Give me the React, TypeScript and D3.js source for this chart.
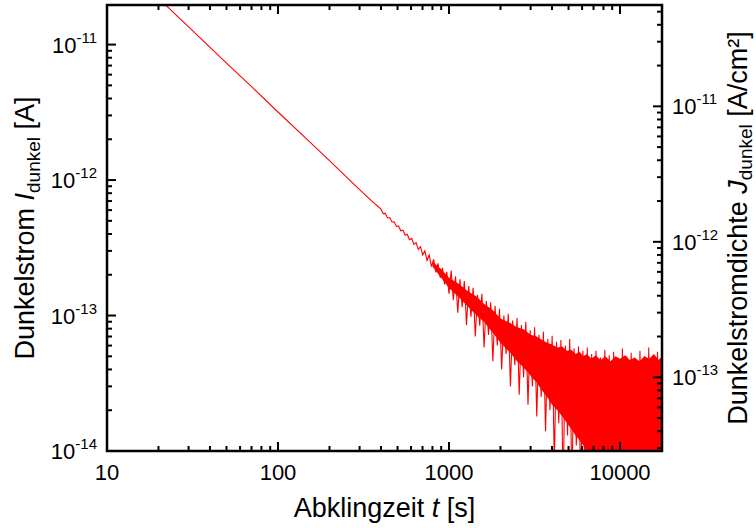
import React from 'react';
import * as d3 from 'd3';

// Decay measurement: time [s] and dark current [A]
const TIME_S = [
  20, 30, 50, 70, 100, 150, 200, 250, 300, 350,
  400, 412, 424, 437, 450, 464, 478, 492, 507, 522, 538, 554, 570, 587, 605,
  623, 642, 661, 681, 701, 722, 744, 766, 789, 813, 837, 862, 888, 915, 942, 970, 1000,
  1030, 1060, 1092, 1125, 1159, 1194, 1229, 1266, 1304, 1343, 1384, 1425, 1468, 1512,
  1557, 1604, 1652, 1702, 1753, 1805, 1859, 1915, 1973, 2032,
  2093, 2156, 2220, 2287, 2355, 2426, 2499, 2574, 2651, 2730, 2812, 2897, 2984, 3073,
  3165, 3260, 3358, 3459, 3563, 3670, 3780, 3893, 4010,
  4130, 4254, 4382, 4513, 4649, 4788, 4932, 5080, 5232, 5389, 5551, 5717, 5889, 6065,
  6247, 6435, 6628, 6827, 7031, 7242, 7460, 7683, 7914, 8151, 8396, 8648, 8907, 9175,
  9450, 9733, 10025, 10326, 10636, 10955, 11284, 11622, 11971, 12330, 12700, 13081,
  13473, 13877, 14294, 14722, 15164, 15619, 16088, 16570, 17067, 17579,
];
const CURRENT_A = [
  2.2e-11, 1.35e-11, 7.3e-12, 4.89e-12, 3.18e-12, 1.96e-12, 1.39e-12, 1.06e-12, 8.5e-13, 7.08e-13,
  6.1e-13, 5.65e-13, 5.68e-13, 5.25e-13, 5.29e-13, 4.9e-13, 4.92e-13, 4.55e-13, 4.58e-13, 4.22e-13,
  4.27e-13, 3.92e-13, 3.98e-13, 3.63e-13, 3.71e-13,
  3.35e-13, 3.45e-13, 3.08e-13, 3.22e-13, 2.8e-13, 3.0e-13, 2.55e-13, 2.8e-13, 2.3e-13, 2.6e-13,
  2.08e-13, 2.43e-13, 1.9e-13, 2.25e-13, 1.7e-13, 2.1e-13, 1.45e-13,
  2.15e-13, 1.3e-13, 1.95e-13, 1.05e-13, 1.85e-13, 1.15e-13, 1.8e-13, 8.5e-14, 1.65e-13, 9.8e-14,
  1.6e-13, 7.0e-14, 1.42e-13, 8.4e-14,
  1.45e-13, 5.8e-14, 1.28e-13, 7.2e-14, 1.25e-13, 4.6e-14, 1.18e-13, 6.0e-14, 1.12e-13, 4.0e-14,
  1.0e-13, 5.2e-14, 1.03e-13, 3.0e-14, 9.2e-14, 4.3e-14, 9.6e-14, 2.6e-14, 8.5e-14, 3.5e-14,
  9.0e-14, 2.2e-14, 7.8e-14, 3.0e-14,
  8.2e-14, 1.8e-14, 7.2e-14, 2.5e-14, 7.6e-14, 1.4e-14, 6.7e-14, 2.0e-14, 7.1e-14,
  8e-15, 6.4e-14, 1.6e-14, 6.6e-14, 5e-15, 6.0e-14, 1.3e-14, 6.7e-14, 5e-15, 5.7e-14, 1.1e-14,
  5.9e-14, 5e-15, 5.5e-14,
  5e-15, 5.8e-14, 5e-15, 5.2e-14, 5e-15, 5.5e-14, 5e-15, 4.9e-14, 5e-15, 5.6e-14, 5e-15,
  5.1e-14, 5e-15, 5.4e-14,
  5e-15, 4.8e-14, 5e-15, 5.7e-14, 5e-15, 5.0e-14, 5e-15, 5.3e-14, 5e-15, 4.7e-14, 5e-15, 5.5e-14,
  5e-15, 5.0e-14, 5e-15, 5.8e-14, 5e-15, 5.1e-14, 5e-15, 5.4e-14, 5e-15, 5.9e-14,
];

// dense noise core of the measurement (upper / lower edge)
const BAND_T = [
  800, 900, 1000, 1150, 1300, 1450, 1600, 1800,
  2000, 2250, 2500, 2750, 3000, 3250, 3500, 3750, 4000,
  4300, 4600, 4900, 5200, 5500, 5800, 6100, 6400, 6800, 7200,
  7700, 8200, 8800, 9400, 10000, 10700, 11400, 12200, 13000, 13900,
  14800, 15800, 16800, 17600,
];
const BAND_HI = [
  2.5e-13, 2.2e-13, 1.9e-13, 1.7e-13, 1.5e-13, 1.38e-13, 1.22e-13, 1.1e-13,
  9.5e-14, 8.9e-14, 8.2e-14, 7.9e-14, 7.2e-14, 7.0e-14, 6.6e-14, 6.3e-14, 6.1e-14,
  5.8e-14, 5.9e-14, 5.5e-14, 5.6e-14, 5.2e-14, 5.4e-14, 5.0e-14, 5.2e-14, 4.8e-14, 5.1e-14,
  4.7e-14, 5.0e-14, 4.6e-14, 5.0e-14, 4.8e-14, 5.1e-14, 4.7e-14, 4.9e-14, 4.6e-14, 5.0e-14,
  4.8e-14, 5.2e-14, 4.7e-14, 5.0e-14,
];
const BAND_LO = [
  2.3e-13, 1.9e-13, 1.6e-13, 1.35e-13, 1.15e-13, 1.0e-13, 9.0e-14, 7.5e-14,
  6.3e-14, 5.4e-14, 4.6e-14, 4.1e-14, 3.6e-14, 3.2e-14, 2.8e-14, 2.5e-14, 2.2e-14,
  2.0e-14, 1.8e-14, 1.6e-14, 1.45e-14, 1.3e-14, 1.2e-14, 1.1e-14, 1.0e-14, 5e-15, 5e-15,
  5e-15, 5e-15, 5e-15, 5e-15, 5e-15, 5e-15, 5e-15, 5e-15, 5e-15, 5e-15,
  5e-15, 5e-15, 5e-15, 5e-15,
];

const X_MAJOR = [10, 100, 1000, 10000];
const X_LABELS = ['10', '100', '1000', '10000'];
const Y_MAJOR = [1e-14, 1e-13, 1e-12, 1e-11];
const Y_EXP = ['-14', '-13', '-12', '-11'];
const J_MAJOR = [1e-13, 1e-12, 1e-11];
const J_EXP = ['-13', '-12', '-11'];
const AREA_CM2 = 0.35;

const W = 756, H = 528;
const L = 107, R = 662, T = 5, B = 451;
const FONT = 'Liberation Sans, Arial, sans-serif';

const isMajor = (v: number) => Math.abs(Math.log10(v) - Math.round(Math.log10(v))) < 1e-6;

export default function App() {
  const x = d3.scaleLog().domain([10, 17600]).range([L, R]);
  const y = d3.scaleLog().domain([1e-14, 1.96e-11]).range([B, T]);
  const yJ = d3.scaleLog().domain([1e-14 / AREA_CM2, 1.96e-11 / AREA_CM2]).range([B, T]);

  const n = Math.min(TIME_S.length, CURRENT_A.length);
  const pts: [number, number][] = d3.range(n).map(i => [TIME_S[i], CURRENT_A[i]]);
  const line = d3.line<[number, number]>().x(d => x(d[0])).y(d => y(d[1]));
  const m = Math.min(BAND_T.length, BAND_HI.length, BAND_LO.length);
  const band = d3.range(m).map(i => [BAND_T[i], BAND_HI[i], BAND_LO[i]]);
  const area = d3.area<number[]>().x(d => x(d[0])).y0(d => y(d[2])).y1(d => y(d[1]));

  const xt = x.ticks();
  const yt = y.ticks();
  const jt = yJ.ticks();
  const MAJ = 9, MIN = 5;

  return (
    <svg width={W} height={H} style={{ position: 'absolute', left: 0, top: 0, background: '#fff' }} fontFamily={FONT}>
      <defs>
        <clipPath id="plotClip">
          <rect x={L} y={T} width={R - L} height={B - T} />
        </clipPath>
      </defs>
      <rect x={0} y={0} width={W} height={H} fill="#fff" />
      <g clipPath="url(#plotClip)">
        <path d={area(band) || ''} fill="#ff0000" stroke="none" />
        <path d={line(pts) || ''} fill="none" stroke="#ff0000" strokeWidth={1.1} strokeLinejoin="miter" />
      </g>
      {/* ticks */}
      <g stroke="#000" strokeWidth={2}>
        {xt.map((v, i) => {
          const len = isMajor(v) ? MAJ : MIN;
          const px = x(v);
          return (
            <g key={'x' + i}>
              <line x1={px} x2={px} y1={B} y2={B - len} />
              <line x1={px} x2={px} y1={T} y2={T + len} />
            </g>
          );
        })}
        {yt.map((v, i) => {
          const len = isMajor(v) ? MAJ : MIN;
          const py = y(v);
          return <line key={'y' + i} x1={L} x2={L + len} y1={py} y2={py} />;
        })}
        {jt.map((v, i) => {
          const len = isMajor(v) ? MAJ : MIN;
          const py = yJ(v);
          return <line key={'j' + i} x1={R} x2={R - len} y1={py} y2={py} />;
        })}
      </g>
      <rect x={L} y={T} width={R - L} height={B - T} fill="none" stroke="#000" strokeWidth={2.5} />
      {/* x labels */}
      {X_MAJOR.map((v, i) => (
        <text key={'xl' + i} x={x(v)} y={480} textAnchor="middle" fontSize={22} fill="#000">{X_LABELS[i]}</text>
      ))}
      {/* left labels */}
      {Y_MAJOR.map((v, i) => (
        <text key={'yl' + i} x={97} y={y(v) + 8} textAnchor="end" fontSize={22} fill="#000">
          10<tspan dy={-10} fontSize={15}>{Y_EXP[i]}</tspan>
        </text>
      ))}
      {/* right labels */}
      {J_MAJOR.map((v, i) => (
        <text key={'jl' + i} x={672} y={yJ(v) + 8} textAnchor="start" fontSize={22} fill="#000">
          10<tspan dy={-10} fontSize={15}>{J_EXP[i]}</tspan>
        </text>
      ))}
      {/* axis titles */}
      <text x={(L + R) / 2} y={517} textAnchor="middle" fontSize={27} fill="#000">
        Abklingzeit <tspan fontStyle="italic">t</tspan> [s]
      </text>
      <text transform={`translate(34,${(T + B) / 2}) rotate(-90)`} textAnchor="middle" fontSize={27} fill="#000">
        Dunkelstrom <tspan fontStyle="italic">I</tspan>
        <tspan fontSize={19} dy={6}>dunkel</tspan>
        <tspan dy={-6}> [A]</tspan>
      </text>
      <text transform={`translate(747,${(T + B) / 2}) rotate(-90)`} textAnchor="middle" fontSize={27} fill="#000">
        Dunkelstromdichte <tspan fontStyle="italic">J</tspan>
        <tspan fontSize={19} dy={5}>dunkel</tspan>
        <tspan dy={-5}> [A/cm²]</tspan>
      </text>
    </svg>
  );
}
